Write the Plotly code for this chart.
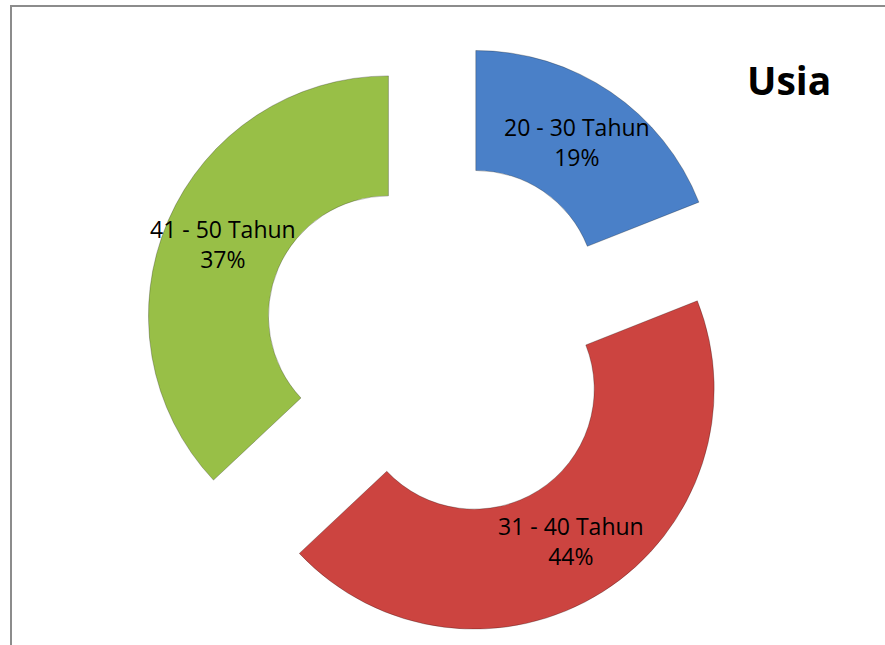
import math
import plotly.graph_objects as go

categories = ["20 - 30 Tahun", "31 - 40 Tahun", "41 - 50 Tahun"]
values = [19, 44, 37]
colors = ["#4a80c8", "#cc4440", "#98bf47"]
title_text = "Usia"

W, H = 885, 645
PULL = 0.246
HOLE = 0.5
# pie domain in pixels (left, right, top, bottom)
DX0, DX1, DY0, DY1 = 143.6, 741.6, 40.3, 638.3

fig = go.Figure(go.Pie(
    labels=categories,
    values=values,
    hole=HOLE,
    pull=[PULL] * len(values),
    sort=False,
    direction="clockwise",
    rotation=0,
    marker=dict(colors=colors, line=dict(color="rgba(0,0,0,0.25)", width=1)),
    textinfo="none",
    domain=dict(x=[DX0 / W, DX1 / W], y=[1 - DY1 / H, 1 - DY0 / H]),
    showlegend=False,
    hoverinfo="label+percent",
))

# data labels placed at the middle of each (pulled) ring segment
cx = (DX0 + DX1) / 2
cy = (DY0 + DY1) / 2
R = min(DX1 - DX0, DY1 - DY0) / 2 / (1 + PULL)
total = sum(values)
annotations = []
acc = 0
for lab, v in zip(categories, values):
    mid = (acc + v / 2) / total * 2 * math.pi
    acc += v
    rr = (PULL + (1 + HOLE) / 2) * R
    px = cx + rr * math.sin(mid)
    py = cy - rr * math.cos(mid)
    annotations.append(dict(
        text=f"{lab}<br>{round(v / total * 100)}%",
        x=px / W, y=1 - py / H, xref="paper", yref="paper",
        xanchor="center", yanchor="middle", showarrow=False,
        font=dict(family="Open Sans", size=23, color="black"),
    ))

annotations.append(dict(
    text="<b>" + title_text + "</b>",
    x=789 / W, y=1 - 79 / H, xref="paper", yref="paper",
    xanchor="center", yanchor="middle", showarrow=False,
    font=dict(family="Open Sans", size=39, color="black"),
))

fig.update_layout(
    width=W, height=H,
    margin=dict(l=0, r=0, t=0, b=0),
    paper_bgcolor="white",
    plot_bgcolor="white",
    annotations=annotations,
    shapes=[dict(
        type="rect", xref="paper", yref="paper",
        x0=11 / W, x1=1.05, y0=-0.05, y1=1 - 6 / H,
        line=dict(color="#8c8c8c", width=2), fillcolor="rgba(0,0,0,0)",
    )],
)

fig.write_html("out.html", config={"displayModeBar": False})

# remove the default page margin so the figure sits at the window origin
with open("out.html", "r", encoding="utf-8") as f:
    html = f.read()
html = html.replace("<body>", '<body style="margin:0;overflow:hidden">', 1)
with open("out.html", "w", encoding="utf-8") as f:
    f.write(html)
